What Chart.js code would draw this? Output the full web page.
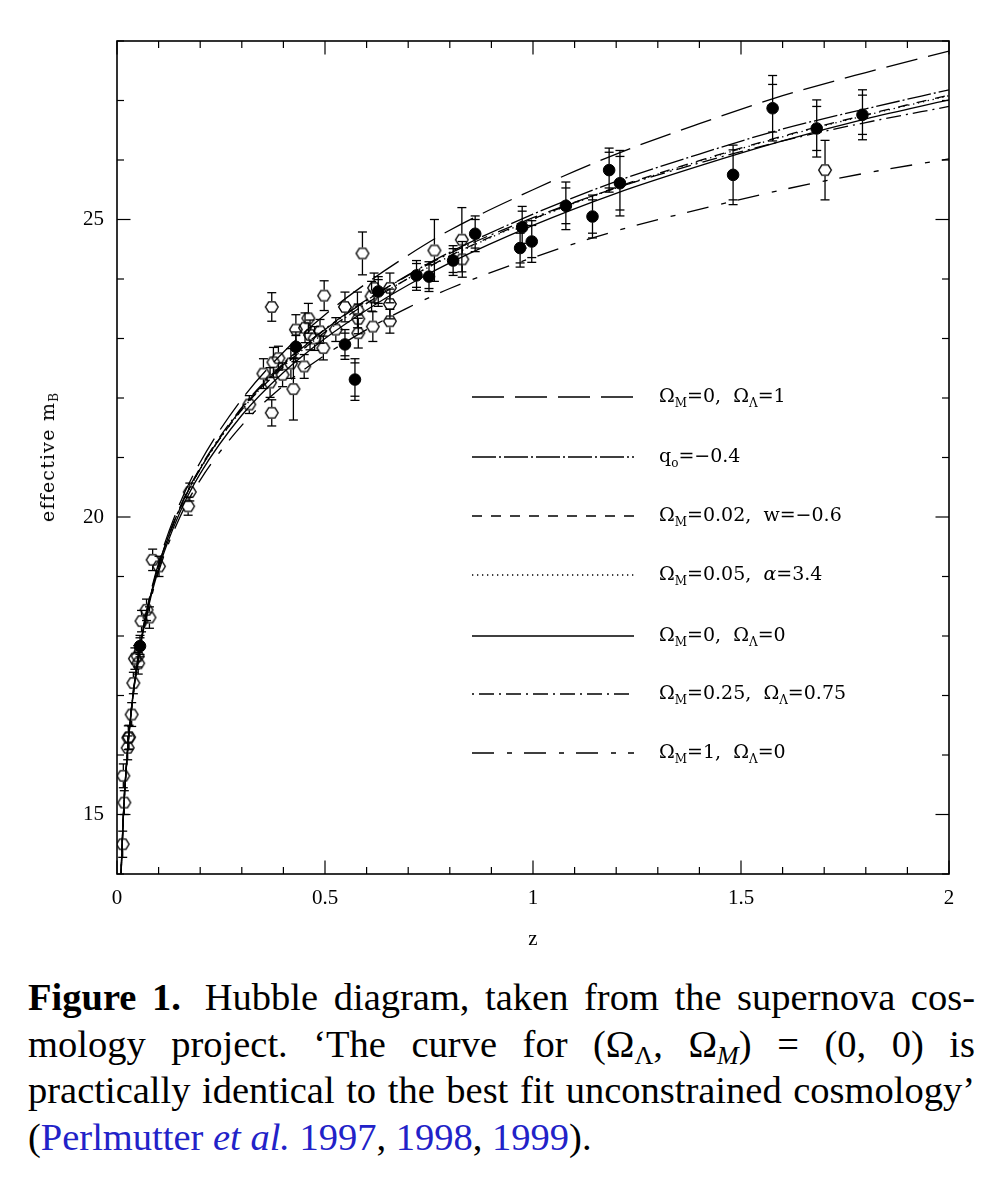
<!DOCTYPE html>
<html>
<head>
<meta charset="utf-8">
<script src="https://cdn.jsdelivr.net/npm/chart.js@4.4.1/dist/chart.umd.min.js"></script>
<style>
html, body { margin: 0; padding: 0; background: #fff; }
#wrap { position: relative; width: 997px; height: 1200px; overflow: hidden; }
#c { position: absolute; left: 0; top: 0; }
.leg { position: absolute; left: 659px; font-family: "DejaVu Serif"; font-size: 19px; color: #000; line-height: 1; white-space: nowrap; transform: translateY(-58%); }
.leg sub { font-size: 12px; vertical-align: -5px; line-height: 0; }
#ytitle { position: absolute; left: 47px; top: 457px; transform: translate(-50%, -50%) rotate(-90deg); font-family: "DejaVu Serif"; font-size: 19px; letter-spacing: 1.2px; white-space: nowrap; color: #000; }
#ytitle sub { font-size: 12px; vertical-align: -4px; line-height: 0; }
#xtitle { position: absolute; left: 533px; top: 938px; transform: translate(-50%, -50%); font-family: "Liberation Serif"; font-size: 21px; color: #000; }
#cap { position: absolute; left: 28px; top: 974px; width: 947px; font-family: "Liberation Serif"; font-size: 38.5px; color: #000; }
#cap .ln { height: 46.7px; line-height: 46.7px; text-align: justify; text-align-last: justify; }
#cap .ln.last { text-align-last: left; }
#cap sub { font-size: 26px; vertical-align: -7px; line-height: 0; }
#cap a { color: #2222c8; text-decoration: none; }
.gap { display: inline-block; width: 24px; }
</style>
</head>
<body>
<div id="wrap">
  <canvas id="c" width="997" height="960"></canvas>
  <div id="ytitle">effective m<sub>B</sub></div>
  <div id="xtitle">z</div>
  <div id="legend"></div>
  <div id="cap">
    <div class="ln"><b>Figure 1.</b><span class="gap"></span>Hubble diagram, taken from the supernova cos-</div>
    <div class="ln">mology project. ‘The curve for (Ω<sub>Λ</sub>, Ω<sub><i>M</i></sub>) = (0, 0) is</div>
    <div class="ln">practically identical to the best fit unconstrained cosmology’</div>
    <div class="ln last">(<a>Perlmutter <i>et al.</i> 1997</a>, <a>1998</a>, <a>1999</a>).</div>
  </div>
</div>
<script>
// model curves (effective m_B against z)
const curveZ = [0.009, 0.01, 0.015, 0.02, 0.03, 0.04, 0.05, 0.07, 0.1, 0.15, 0.2, 0.3, 0.4, 0.5, 0.6, 0.7, 0.8, 1.0, 1.2, 1.4, 1.6, 1.8, 2.0];
const mOm0Ol1   = [13.81, 14.04, 14.94, 15.57, 16.47, 17.11, 17.62, 18.39, 19.23, 20.21, 20.92, 21.98, 22.77, 23.40, 23.93, 24.40, 24.82, 25.50, 26.10, 26.61, 27.08, 27.47, 27.83];
const mQ0       = [13.80, 14.04, 14.93, 15.56, 16.45, 17.09, 17.59, 18.35, 19.18, 20.13, 20.81, 21.82, 22.56, 23.15, 23.64, 24.07, 24.45, 25.09, 25.64, 26.10, 26.52, 26.86, 27.18];
const mOm002W   = [13.80, 14.04, 14.93, 15.56, 16.45, 17.09, 17.59, 18.35, 19.18, 20.12, 20.81, 21.80, 22.53, 23.11, 23.59, 24.01, 24.39, 25.01, 25.54, 25.99, 26.40, 26.76, 27.09];
const mOm005A   = [13.80, 14.04, 14.93, 15.56, 16.45, 17.09, 17.59, 18.35, 19.17, 20.12, 20.80, 21.80, 22.53, 23.10, 23.59, 24.01, 24.38, 25.00, 25.53, 25.98, 26.39, 26.75, 27.08];
const mOm0Ol0   = [13.80, 14.03, 14.92, 15.55, 16.44, 17.07, 17.57, 18.32, 19.13, 20.06, 20.73, 21.71, 22.43, 23.00, 23.48, 23.90, 24.27, 24.90, 25.44, 25.90, 26.32, 26.69, 27.01];
const mOm025Ol  = [13.80, 14.04, 14.93, 15.56, 16.46, 17.09, 17.60, 18.36, 19.19, 20.14, 20.83, 21.84, 22.58, 23.16, 23.65, 24.06, 24.43, 25.03, 25.53, 25.95, 26.32, 26.63, 26.90];
const mOm1Ol0   = [13.79, 14.02, 14.91, 15.54, 16.42, 17.05, 17.54, 18.28, 19.08, 19.98, 20.62, 21.54, 22.21, 22.72, 23.15, 23.52, 23.84, 24.36, 24.81, 25.17, 25.50, 25.78, 26.02];

const legendLabels = [
  'Ω<sub>M</sub>=0,&nbsp; Ω<sub>Λ</sub>=1',
  'q<sub>o</sub>=−0.4',
  'Ω<sub>M</sub>=0.02,&nbsp; w=−0.6',
  'Ω<sub>M</sub>=0.05,&nbsp; <i>α</i>=3.4',
  'Ω<sub>M</sub>=0,&nbsp; Ω<sub>Λ</sub>=0',
  'Ω<sub>M</sub>=0.25,&nbsp; Ω<sub>Λ</sub>=0.75',
  'Ω<sub>M</sub>=1,&nbsp; Ω<sub>Λ</sub>=0'
];

// open hexagons
const openZ = [0.0137, 0.0152, 0.0176, 0.0257, 0.0272, 0.029, 0.0353, 0.0393, 0.043, 0.0497, 0.051, 0.059, 0.071, 0.078, 0.0857, 0.101, 0.171, 0.175, 0.318, 0.352, 0.368, 0.372, 0.372, 0.376, 0.388, 0.398, 0.418, 0.424, 0.430, 0.450, 0.452, 0.460, 0.464, 0.475, 0.488, 0.496, 0.498, 0.526, 0.548, 0.578, 0.580, 0.580, 0.590, 0.612, 0.615, 0.618, 0.656, 0.656, 0.656, 0.763, 0.829, 0.830, 1.702];
const openM = [14.50, 15.65, 15.20, 16.12, 16.29, 16.30, 16.68, 17.21, 17.62, 17.66, 17.54, 18.25, 18.44, 18.31, 19.28, 19.17, 20.18, 20.42, 21.89, 22.41, 22.26, 23.53, 21.75, 22.60, 22.67, 22.39, 22.58, 22.15, 23.15, 22.53, 23.18, 23.34, 23.06, 23.00, 23.12, 22.84, 23.72, 23.15, 23.53, 23.48, 23.33, 23.09, 24.43, 23.71, 23.20, 23.85, 23.85, 23.58, 23.29, 24.48, 24.66, 24.33, 25.83];
const openErr = [0.22, 0.2, 0.2, 0.2, 0.2, 0.2, 0.2, 0.18, 0.18, 0.18, 0.18, 0.18, 0.18, 0.18, 0.18, 0.17, 0.15, 0.15, 0.15, 0.25, 0.25, 0.24, 0.22, 0.25, 0.2, 0.2, 0.25, 0.52, 0.25, 0.2, 0.25, 0.25, 0.25, 0.2, 0.2, 0.2, 0.25, 0.2, 0.25, 0.3, 0.25, 0.25, 0.36, 0.25, 0.25, 0.25, 0.25, 0.25, 0.2, 0.52, 0.54, 0.3, 0.5];

// filled circles (outer and inner error bars)
const filledZ = [0.0553, 0.430, 0.548, 0.572, 0.628, 0.720, 0.750, 0.808, 0.861, 0.969, 0.974, 0.997, 1.079, 1.143, 1.183, 1.209, 1.481, 1.576, 1.682, 1.792];
const filledM = [17.83, 22.86, 22.90, 22.31, 23.79, 24.06, 24.04, 24.31, 24.76, 24.52, 24.87, 24.63, 25.23, 25.05, 25.83, 25.61, 25.75, 26.87, 26.53, 26.76];
const filledErr = [0.18, 0.25, 0.25, 0.35, 0.25, 0.25, 0.25, 0.25, 0.3, 0.32, 0.35, 0.35, 0.4, 0.36, 0.37, 0.55, 0.5, 0.55, 0.48, 0.42];
const filledInner = [0.14, 0.19, 0.19, 0.28, 0.2, 0.2, 0.2, 0.2, 0.24, 0.25, 0.27, 0.27, 0.3, 0.28, 0.3, 0.45, 0.42, 0.4, 0.37, 0.33];

const ink = '#000';

function hexMarker() {
  const c = document.createElement('canvas');
  c.width = 16; c.height = 16;
  const g = c.getContext('2d');
  g.beginPath();
  for (let i = 0; i < 6; i++) {
    const a = Math.PI / 3 * i;
    const px = 8 + 6.3 * Math.cos(a), py = 8 + 5.9 * Math.sin(a);
    if (i) g.lineTo(px, py); else g.moveTo(px, py);
  }
  g.closePath();
  g.strokeStyle = ink;
  g.lineWidth = 1.4;
  g.stroke();
  return c;
}

const pts = (xs, ys) => xs.map((v, i) => ({ x: v, y: ys[i] }));

const curveDefs = [
  [mOm0Ol1, [32, 11]],
  [mQ0, [24, 3, 2, 3]],
  [mOm002W, [10, 9]],
  [mOm005A, [1.3, 3.7]],
  [mOm0Ol0, []],
  [mOm025Ol, [2, 5, 15, 5]],
  [mOm1Ol0, [22, 13, 5, 12]]
];

const curveSets = curveDefs.map(([m, dash], i) => ({
  label: legendLabels[i].replace(/<[^>]+>/g, ''),
  data: pts(curveZ, m),
  showLine: true,
  pointRadius: 0,
  borderColor: ink,
  borderWidth: 1.3,
  borderDash: dash,
  cubicInterpolationMode: 'monotone',
  fill: false
}));

const pointSets = [
  { label: 'filled', data: pts(filledZ, filledM), pointStyle: 'circle', pointRadius: 5.8,
    backgroundColor: ink, borderColor: ink, borderWidth: 1, showLine: false },
  { label: 'open', data: pts(openZ, openM), pointStyle: hexMarker(), pointRadius: 6,
    showLine: false }
];

// legend rows (y of the sample line, in page pixels)
const legendY = [397, 457, 516, 575, 636, 694, 753];
document.getElementById('legend').innerHTML = legendLabels.map((t, i) =>
  '<div class="leg" style="top:' + legendY[i] + 'px">' + t + '</div>').join('');

const decor = {
  id: 'decor',
  afterDatasetsDraw(chart) {
    const { ctx, chartArea: a, scales: { x, y } } = chart;
    const seg = (x1, y1, x2, y2) => { ctx.beginPath(); ctx.moveTo(x1, y1); ctx.lineTo(x2, y2); ctx.stroke(); };
    ctx.save();
    ctx.strokeStyle = ink;
    ctx.lineWidth = 1.3;
    ctx.setLineDash([]);

    // error bars, broken around the marker
    const bars = (zs, ms, errs, inner, r) => {
      zs.forEach((z, i) => {
        const px = x.getPixelForValue(z), pc = y.getPixelForValue(ms[i]);
        const top = y.getPixelForValue(ms[i] + errs[i]), bot = y.getPixelForValue(ms[i] - errs[i]);
        seg(px, top, px, pc - r);
        seg(px, pc + r, px, bot);
        seg(px - 4.5, top, px + 4.5, top);
        seg(px - 4.5, bot, px + 4.5, bot);
        if (inner) {
          const t2 = y.getPixelForValue(ms[i] + inner[i]), b2 = y.getPixelForValue(ms[i] - inner[i]);
          seg(px - 4.5, t2, px + 4.5, t2);
          seg(px - 4.5, b2, px + 4.5, b2);
        }
      });
    };
    bars(openZ, openM, openErr, null, 5.9);
    bars(filledZ, filledM, filledErr, filledInner, 5.8);

    // inward ticks on all four sides
    ctx.lineWidth = 1.2;
    for (let i = 0; i <= 20; i++) {
      const px = x.getPixelForValue(i / 10), len = i % 5 === 0 ? 13.5 : 7;
      seg(px, a.bottom, px, a.bottom - len);
      seg(px, a.top, px, a.top + len);
    }
    for (let v = 14; v <= 28; v++) {
      const py = y.getPixelForValue(v), len = v % 5 === 0 ? 13.5 : 7;
      seg(a.left, py, a.left + len, py);
      seg(a.right, py, a.right - len, py);
    }

    // frame
    ctx.lineWidth = 1.6;
    ctx.strokeRect(a.left, a.top, a.right - a.left, a.bottom - a.top);

    // legend line samples
    ctx.lineWidth = 1.3;
    curveSets.forEach((ds, i) => {
      ctx.setLineDash(ds.borderDash);
      seg(472, legendY[i], 634, legendY[i]);
    });
    ctx.restore();
  }
};

new Chart(document.getElementById('c'), {
  type: 'scatter',
  data: { datasets: [...pointSets, ...curveSets] },
  options: {
    responsive: false,
    animation: false,
    events: [],
    layout: { padding: { top: 41, right: 48, bottom: 26, left: 0 } },
    plugins: { legend: { display: false }, tooltip: { enabled: false } },
    scales: {
      x: {
        type: 'linear', min: 0, max: 2,
        grid: { display: false, drawTicks: false },
        border: { display: false },
        ticks: { stepSize: 0.5, padding: 12, autoSkip: false, color: ink,
                 font: { family: 'Liberation Serif', size: 21 }, callback: v => String(v) },
        afterFit: s => { s.height = 60; }
      },
      y: {
        type: 'linear', min: 14, max: 28,
        grid: { display: false, drawTicks: false },
        border: { display: false },
        ticks: { stepSize: 1, padding: 13, autoSkip: false, color: ink,
                 font: { family: 'Liberation Serif', size: 21 }, callback: v => (v % 5 === 0 ? String(v) : '') },
        afterFit: s => { s.width = 117; }
      }
    }
  },
  plugins: [decor]
});
</script>
</body>
</html>
